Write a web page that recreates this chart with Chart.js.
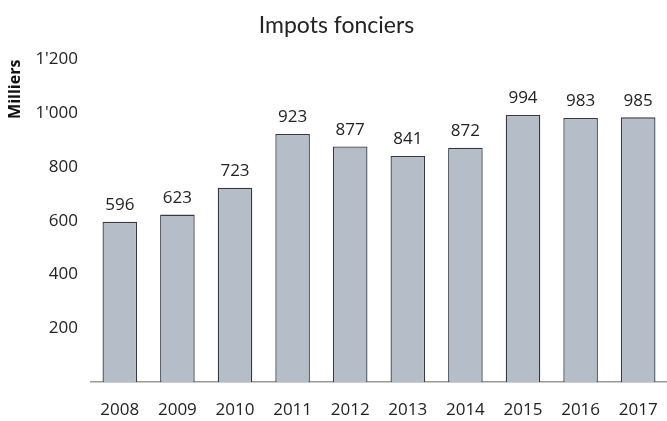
<!DOCTYPE html>
<html>
<head>
<meta charset="utf-8">
<script src="https://cdn.jsdelivr.net/npm/chart.js@4/dist/chart.umd.min.js"></script>
<style>
  html, body { margin: 0; padding: 0; background: #fff; }
  #wrap { width: 667px; height: 421px; }
</style>
</head>
<body>
<div id="wrap"><canvas id="chart"></canvas></div>
<script>
const years = ['2008', '2009', '2010', '2011', '2012', '2013', '2014', '2015', '2016', '2017'];
const impots = [596, 623, 723, 923, 877, 841, 872, 994, 983, 985];
const yTicks = [200, 400, 600, 800, 1000, 1200];

// format 1000 -> 1'000
const fmt = v => String(v).replace(/\B(?=(\d{3})+(?!\d))/g, "'");

// value labels above the bars
const barLabels = {
    id: 'barLabels',
    afterDatasetsDraw(chart) {
        const ctx = chart.ctx;
        const meta = chart.getDatasetMeta(0);
        ctx.save();
        ctx.font = '17px "Open Sans", sans-serif';
        ctx.fillStyle = '#222';
        ctx.textAlign = 'center';
        ctx.textBaseline = 'bottom';
        meta.data.forEach((bar, i) => {
            ctx.fillText(fmt(impots[i]), bar.x, bar.y - 8);
        });
        ctx.restore();
    }
};

const ctx = document.getElementById('chart').getContext('2d');
new Chart(ctx, {
    type: 'bar',
    data: {
        labels: years,
        datasets: [{
            label: 'Impots fonciers',
            data: impots,
            backgroundColor: '#b5bdc9',
            borderColor: '#353a42',
            borderWidth: 1.3,
            categoryPercentage: 1,
            barPercentage: 0.6
        }]
    },
    options: {
        responsive: true,
        maintainAspectRatio: false,
        animation: false,
        layout: { padding: { top: 0, right: 0, bottom: 0, left: 6 } },
        plugins: {
            legend: { display: false },
            tooltip: { enabled: false },
            title: {
                display: true,
                text: 'Impots fonciers',
                color: '#222',
                font: { family: 'Lato, sans-serif', size: 23, weight: 'normal' },
                padding: { top: 12, bottom: 20 }
            }
        },
        scales: {
            x: {
                grid: { display: false, drawTicks: false },
                border: { display: true, color: '#999', width: 1.5 },
                ticks: {
                    color: '#222',
                    font: { family: '"Open Sans", sans-serif', size: 17 },
                    padding: 18
                },
                afterFit(axis) {
                    axis.height = 39;
                    axis.paddingLeft = 0;
                    axis.paddingRight = 0;
                }
            },
            y: {
                min: 0,
                max: 1200,
                afterBuildTicks(axis) {
                    axis.ticks = yTicks.map(v => ({ value: v }));
                },
                grid: { display: false, drawTicks: false },
                border: { display: false },
                ticks: {
                    color: '#222',
                    font: { family: '"Open Sans", sans-serif', size: 17 },
                    padding: 13,
                    callback: v => fmt(v)
                },
                title: {
                    display: true,
                    text: 'Milliers',
                    align: 'end',
                    color: '#111',
                    font: { family: '"Open Sans", sans-serif', size: 16, weight: 'bold' },
                    padding: { top: 0, bottom: 2 }
                },
                afterFit(axis) { axis.width = 85; }
            }
        }
    },
    plugins: [barLabels]
});
</script>
</body>
</html>
